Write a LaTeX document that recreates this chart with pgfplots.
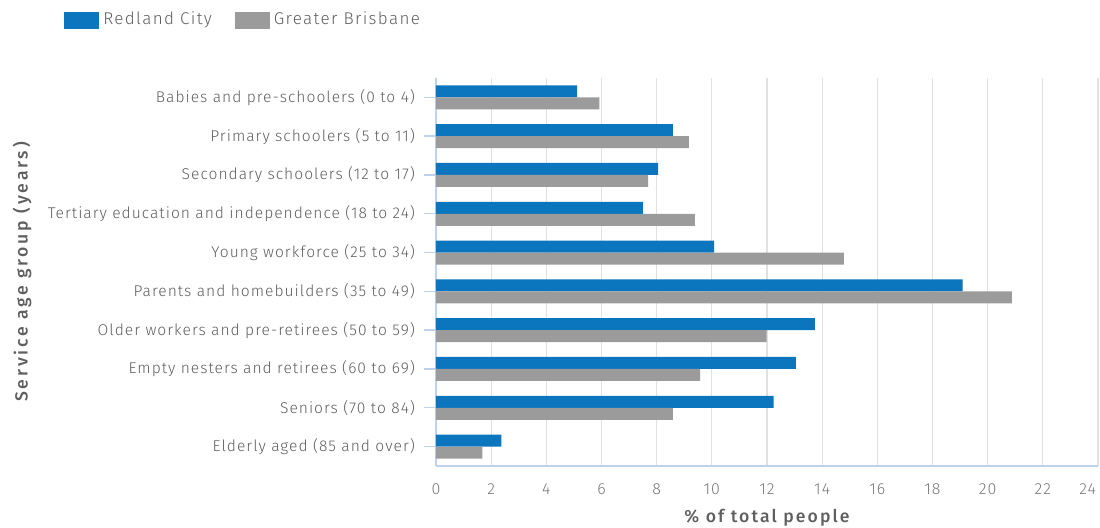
\documentclass[border=0pt]{standalone}
\usepackage{pgfplots}
\pgfplotsset{compat=1.18}
\usepackage{fontspec}
\IfFontExistsTF{Fira Sans Light}
  {\setmainfont{Fira Sans Light}[LetterSpace=6]}
  {\setmainfont{Fira Sans}[LetterSpace=6]}
\IfFontExistsTF{Fira Sans Medium}
  {\newfontfamily\titlefont{Fira Sans Medium}}
  {\newfontfamily\titlefont{Fira Sans}}

\definecolor{redland}{RGB}{11,118,190}
\definecolor{brisbane}{RGB}{155,155,155}
\definecolor{labelgray}{RGB}{95,95,95}
\definecolor{tickgray}{RGB}{120,120,120}
\definecolor{axisblue}{RGB}{190,210,235}
\definecolor{gridgray}{RGB}{225,225,225}

% share of total people by service age group, top group first
\pgfplotstableread{
idx redland brisbane
9   5.12  5.92
8   8.59  9.17
7   8.05  7.69
6   7.50  9.39
5  10.08 14.79
4  19.09 20.88
3  13.74 11.99
2  13.05  9.58
1  12.24  8.59
0   2.37  1.68
}\agedata

\begin{document}
\begin{tikzpicture}
\path[use as bounding box] (-218pt,-31pt) rectangle (332pt,233pt);
\begin{axis}[
  scale only axis, width=331pt, height=194pt,
  at={(0pt,0pt)}, anchor=south west,
  xbar, bar width=6pt,
  xmin=0, xmax=24, xtick={0,2,...,24},
  xticklabels={0,2,4,6,8,10,12,14,16,18,20,22,\makebox[0pt][r]{24\hspace{1pt}}},
  ymin=-0.5, ymax=9.5, ytick={0,...,9},
  yticklabels={
    Elderly aged (85 and over),
    Seniors (70 to 84),
    Empty nesters and retirees (60 to 69),
    Older workers and pre-retirees (50 to 59),
    Parents and homebuilders (35 to 49),
    Young workforce (25 to 34),
    Tertiary education and independence (18 to 24),
    Secondary schoolers (12 to 17),
    Primary schoolers (5 to 11),
    Babies and pre-schoolers (0 to 4)},
  axis x line*=bottom, axis y line*=left,
  x axis line style={draw=axisblue, line width=0.7pt, -},
  y axis line style={draw=axisblue, line width=0.7pt, -},
  xmajorgrids, major x grid style={draw=gridgray, line width=0.6pt},
  tick align=outside, major tick length=6pt,
  xtick style={draw=none},
  ytick style={draw=axisblue, line width=0.7pt},
  /pgf/number format/assume math mode=true,
  yticklabel style={font=\fontsize{7.8}{9}\selectfont\addfontfeatures{LetterSpace=6.5},
    text=labelgray, xshift=-1pt},
  xticklabel style={font=\fontsize{8}{9}\selectfont, text=tickgray, yshift=0.5pt},
  xlabel={\% of total people},
  xlabel style={at={(axis description cs:0.5,0)}, anchor=center, yshift=-26pt,
    font=\titlefont\fontsize{8.8}{10}\selectfont\addfontfeatures{LetterSpace=12},
    text=labelgray},
  ylabel={Service age group (years)},
  ylabel style={at={(axis description cs:-0.6254,0.5)}, anchor=center,
    font=\titlefont\fontsize{8.8}{10}\selectfont\addfontfeatures{LetterSpace=16},
    text=labelgray},
  legend columns=2,
  legend image code/.code={\fill[#1] (0pt,-4.25pt) rectangle (17.5pt,4.25pt);},
  legend style={at={(axis description cs:-0.562,1.181)}, anchor=north west,
    draw=none, fill=none, inner sep=0pt,
    font=\fontsize{8.5}{10}\selectfont\addfontfeatures{LetterSpace=8},
    text=labelgray,
    /tikz/every even column/.append style={column sep=9.5pt}},
]
\addplot[fill=redland, draw=none, bar shift=3pt] table[x=redland, y=idx]{\agedata};
\addlegendentry{Redland City}
\addplot[fill=brisbane, draw=none, bar shift=-3pt] table[x=brisbane, y=idx]{\agedata};
\addlegendentry{Greater Brisbane}
\end{axis}
\end{tikzpicture}
\end{document}
